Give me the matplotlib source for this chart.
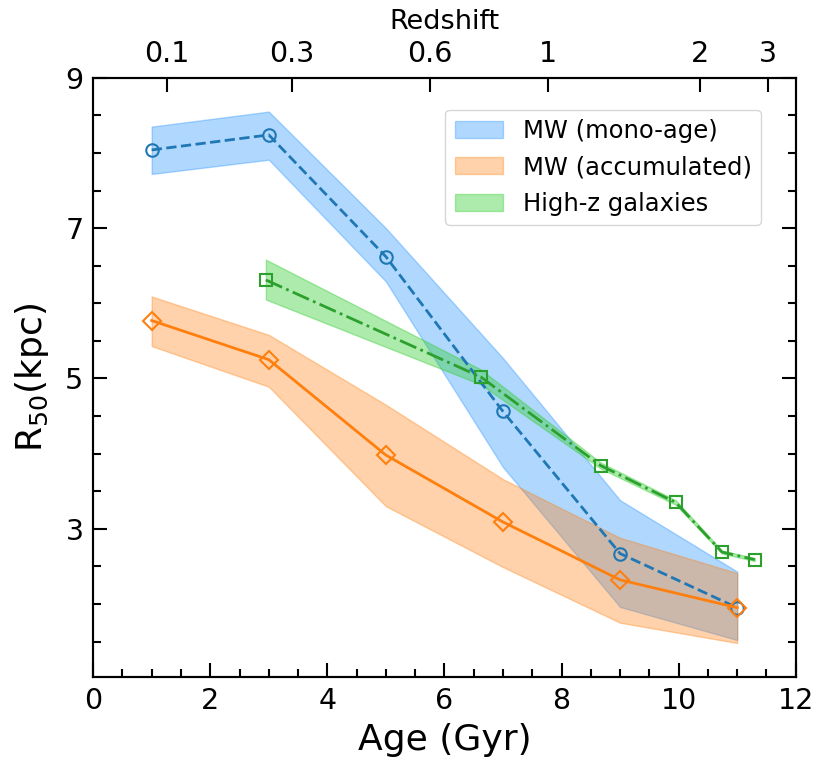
import matplotlib
matplotlib.use("Agg")
import matplotlib.pyplot as plt
from matplotlib.ticker import MultipleLocator

# Data
age_mw = [1, 3, 5, 7, 9, 11]
mono_r50 = [8.04, 8.24, 6.62, 4.56, 2.67, 1.95]
mono_hi = [8.35, 8.55, 7.00, 5.27, 3.38, 2.43]
mono_lo = [7.72, 7.91, 6.29, 3.82, 1.96, 1.52]

acc_r50 = [5.77, 5.25, 3.98, 3.09, 2.32, 1.95]
acc_hi = [6.09, 5.58, 4.65, 3.66, 2.88, 2.41]
acc_lo = [5.43, 4.89, 3.30, 2.49, 1.75, 1.48]

age_hz = [2.95, 6.62, 8.67, 9.95, 10.74, 11.30]
hz_r50 = [6.31, 5.02, 3.84, 3.35, 2.69, 2.59]
hz_hi = [6.58, 5.12, 3.88, 3.38, 2.71, 2.61]
hz_lo = [6.05, 4.92, 3.80, 3.32, 2.67, 2.57]

z_labels = ["0.1", "0.3", "0.6", "1", "2", "3"]
z_ages = [1.26, 3.40, 5.75, 7.77, 10.36, 11.52]

fig = plt.figure(figsize=(8.17, 7.70), dpi=100)
ax = fig.add_axes([0.114, 0.121, 0.860, 0.778])

ax.fill_between(age_mw, mono_lo, mono_hi, color="dodgerblue", alpha=0.35, lw=1, label="MW (mono-age)")
ax.fill_between(age_mw, acc_lo, acc_hi, color="C1", alpha=0.35, lw=1, label="MW (accumulated)")
ax.fill_between(age_hz, hz_lo, hz_hi, color="limegreen", alpha=0.4, lw=1, label="High-z galaxies")

ax.plot(age_mw, mono_r50, ls="--", color="C0", lw=2, marker="o", ms=9, mfc="none", mew=1.5)
ax.plot(age_mw, acc_r50, ls="-", color="C1", lw=2, marker="D", ms=9, mfc="none", mew=1.5)
ax.plot(age_hz, hz_r50, ls="-.", color="C2", lw=2, marker="s", ms=9, mfc="none", mew=1.5)

ax.set_xlim(0, 12)
ax.set_ylim(1.03, 9)
ax.set_xticks([0, 2, 4, 6, 8, 10, 12])
ax.set_yticks([3, 5, 7, 9])
ax.xaxis.set_minor_locator(MultipleLocator(0.5))
ax.yaxis.set_minor_locator(MultipleLocator(0.5))
ax.tick_params(which="both", direction="in", top=False, right=True, width=1.5, labelsize=20.5, pad=7)
ax.tick_params(which="major", length=10)
ax.tick_params(which="minor", length=6)
for s in ax.spines.values():
    s.set_linewidth(1.5)
ax.set_xlabel("Age (Gyr)", fontsize=26, labelpad=6)
ax.set_ylabel("R$_{50}$(kpc)", fontsize=26, labelpad=10)

leg = ax.legend(loc="upper right", bbox_to_anchor=(0.951, 0.947), borderaxespad=0, fontsize=17.5)

ax2 = ax.twiny()
ax2.set_xlim(ax.get_xlim())
ax2.set_xticks(z_ages)
ax2.set_xticklabels(z_labels)
ax2.tick_params(direction="in", length=10, width=1.5, labelsize=20.5, pad=7)
ax2.set_xlabel("Redshift", fontsize=19.5, labelpad=8)
for s in ax2.spines.values():
    s.set_linewidth(1.5)

fig.savefig("out.png", dpi=100)
